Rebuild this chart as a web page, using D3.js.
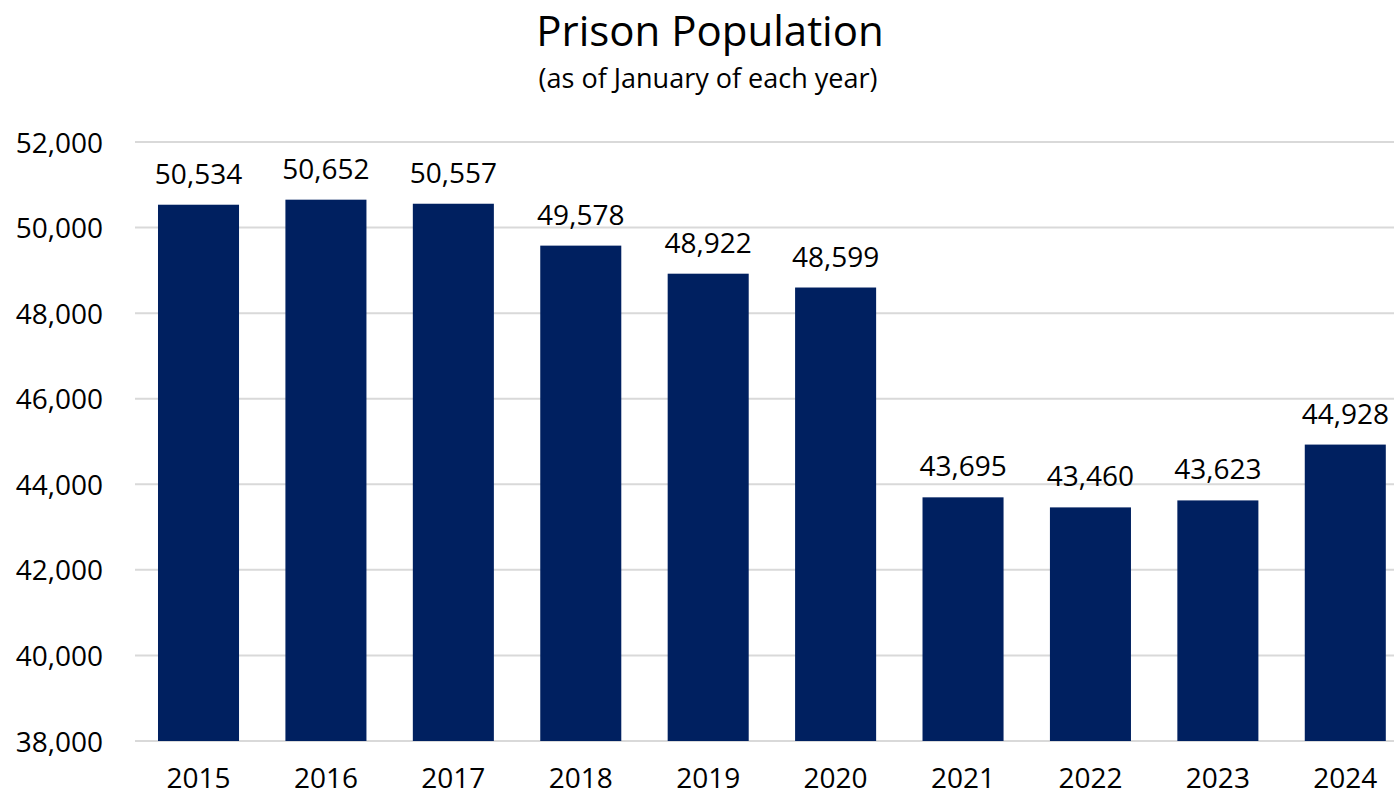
<!DOCTYPE html>
<html><head><meta charset="utf-8">
<script src="https://cdn.jsdelivr.net/npm/d3@7"></script>
<style>
html,body{margin:0;padding:0;background:#fff;}
text{font-family:"Open Sans","Noto Sans",sans-serif;fill:#000;}
</style></head>
<body><svg id="chart" width="1394" height="796"></svg>
<script>
const years = ["2015","2016","2017","2018","2019","2020","2021","2022","2023","2024"];
const population = [50534,50652,50557,49578,48922,48599,43695,43460,43623,44928];
const yTicks = [38000,40000,42000,44000,46000,48000,50000,52000];

const svg = d3.select("#chart");
const x = d3.scaleBand().domain(years).range([134.8, 1409]).paddingInner(0.364).paddingOuter(0.182);
const y = d3.scaleLinear().domain([38000, 52000]).range([741, 142]);
const fmt = d3.format(",");

// gridlines
svg.append("g").selectAll("line").data(yTicks).join("line")
  .attr("x1", 135).attr("x2", 1394)
  .attr("y1", d => y(d)).attr("y2", d => y(d))
  .attr("stroke", "#d9d9d9").attr("stroke-width", 2);

// y axis labels
const yAxis = d3.axisLeft(y).tickValues(yTicks).tickFormat(fmt).tickSize(0).tickPadding(0);
const gy = svg.append("g").attr("transform", "translate(103,0)").call(yAxis);
gy.select(".domain").remove();
gy.selectAll("text").attr("font-size", 28).attr("dy", "0.36em").style("font-family", '"Open Sans",sans-serif').attr("fill", "#000");

// bars
svg.append("g").selectAll("rect").data(years).join("rect")
  .attr("x", d => x(d)).attr("width", x.bandwidth())
  .attr("y", (d, i) => y(population[i]))
  .attr("height", (d, i) => y(38000) - y(population[i]))
  .attr("fill", "#002060");

// data labels
svg.append("g").selectAll("text").data(years).join("text")
  .attr("x", d => x(d) + x.bandwidth() / 2)
  .attr("y", (d, i) => y(population[i]) - 21)
  .attr("text-anchor", "middle").attr("font-size", 28)
  .text((d, i) => fmt(population[i]));

// x axis labels
const xAxis = d3.axisBottom(x).tickSize(0).tickPadding(0);
const gx = svg.append("g").attr("transform", "translate(0,788)").call(xAxis);
gx.select(".domain").remove();
gx.selectAll("text").attr("font-size", 28).attr("dy", 0).attr("y", 0).style("font-family", '"Open Sans",sans-serif').attr("fill", "#000");

// titles
svg.append("text").attr("x", 710).attr("y", 46).attr("text-anchor", "middle")
  .attr("font-size", 42).text("Prison Population");
svg.append("text").attr("x", 708).attr("y", 88).attr("text-anchor", "middle")
  .attr("font-size", 27).text("(as of January of each year)");
</script></body></html>
